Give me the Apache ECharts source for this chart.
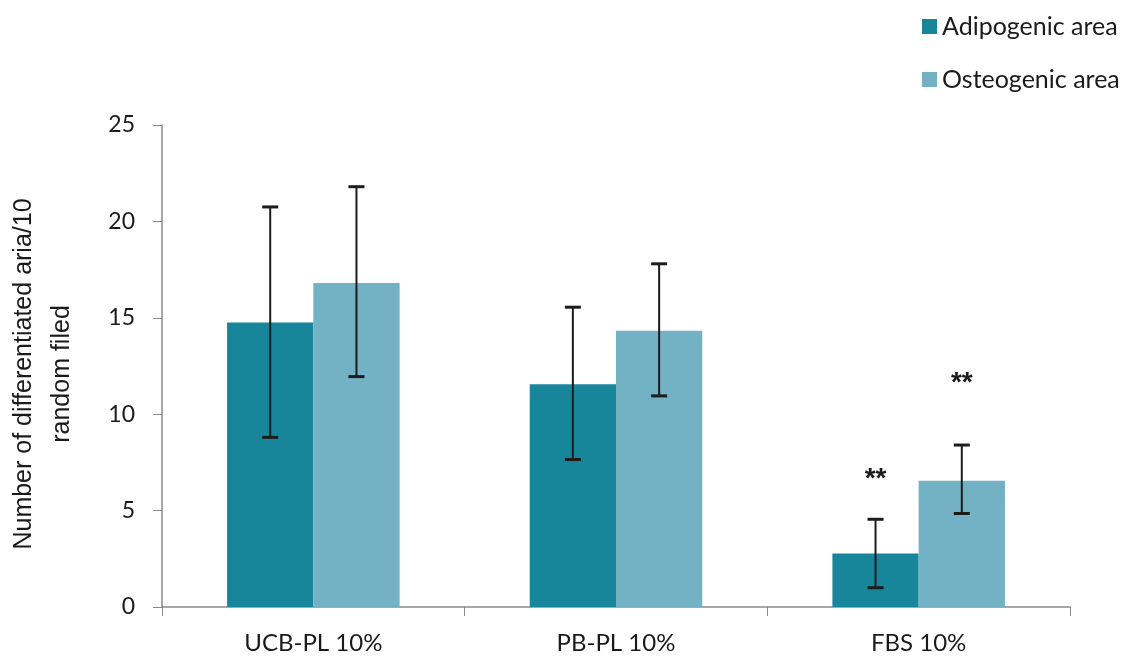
<!DOCTYPE html>
<html>
<head>
<meta charset="utf-8">
<script src="https://cdn.jsdelivr.net/npm/echarts@6/dist/echarts.min.js"></script>
<style>
  html, body { margin: 0; padding: 0; background: #fff; }
  #chart { width: 1138px; height: 659px; }
</style>
</head>
<body>
<div id="chart"></div>
<script>
// Groups and series
const categories = ['UCB-PL 10%', 'PB-PL 10%', 'FBS 10%'];
const seriesNames = ['Adipogenic area', 'Osteogenic area'];
const adipogenic = [14.75, 11.55, 2.77];
const osteogenic = [16.8, 14.33, 6.55];
// Error bar ends (low, high)
const adipogenicErrLow = [8.8, 7.65, 1.0];
const adipogenicErrHigh = [20.75, 15.55, 4.55];
const osteogenicErrLow = [11.95, 10.95, 4.85];
const osteogenicErrHigh = [21.8, 17.8, 8.4];
// Significance marks and their heights on the value axis
const adipogenicSig = ['', '', '**'];
const adipogenicSigAt = [null, null, 6.6];
const osteogenicSig = ['', '', '**'];
const osteogenicSigAt = [null, null, 11.6];
const yTicks = [0, 5, 10, 15, 20, 25];

const colors = ['#17869b', '#73b1c5'];
const GAP = 0.43; // barCategoryGap
const LABEL_FONT = 'Lato, "Open Sans", sans-serif';

function errorSeries(name, low, high, sig, sigAt, side) {
  const data = categories.map((c, i) => [i, low[i], high[i], sig[i], sigAt[i]]);
  return {
    type: 'custom',
    name: name + ' error',
    z: 10,
    silent: true,
    data: data,
    renderItem: function (params, api) {
      const idx = api.value(0);
      const band = api.size([1, 0])[0];
      const barW = band * (1 - GAP) / 2;
      const off = side * barW / 2;
      const pLow = api.coord([idx, api.value(1)]);
      const pHigh = api.coord([idx, api.value(2)]);
      const x = pLow[0] + off;
      const cap = 8;
      const capStyle = { stroke: '#1c1c1c', lineWidth: 3 };
      const children = [
        { type: 'line', shape: { x1: x, y1: pLow[1], x2: x, y2: pHigh[1] }, style: { stroke: '#1c1c1c', lineWidth: 2 } },
        { type: 'line', shape: { x1: x - cap, y1: pHigh[1], x2: x + cap, y2: pHigh[1] }, style: capStyle },
        { type: 'line', shape: { x1: x - cap, y1: pLow[1], x2: x + cap, y2: pLow[1] }, style: capStyle }
      ];
      const mark = data[params.dataIndex][3];
      const at = data[params.dataIndex][4];
      if (mark && at != null) {
        const pm = api.coord([idx, at]);
        children.push({
          type: 'text',
          style: {
            x: x, y: pm[1], text: mark,
            font: 'bold 28px "Liberation Sans", Arial, sans-serif',
            fill: '#1c1c1c', align: 'center', verticalAlign: 'middle'
          }
        });
      }
      return { type: 'group', children: children };
    }
  };
}

const chart = echarts.init(document.getElementById('chart'), null, { renderer: 'canvas' });
chart.setOption({
  backgroundColor: '#ffffff',
  animation: false,
  color: colors,
  legend: {
    orient: 'vertical',
    left: 917,
    top: 9,
    itemWidth: 15,
    itemHeight: 15,
    itemGap: 28,
    icon: 'rect',
    data: seriesNames,
    textStyle: { fontFamily: LABEL_FONT, fontSize: 25, color: '#1a1a1a' }
  },
  grid: { left: 162, right: 68, top: 125, bottom: 52, containLabel: false, outerBoundsMode: 'none' },
  xAxis: {
    type: 'category',
    data: categories,
    axisLine: { lineStyle: { color: '#8a8a8a', width: 1.5 } },
    axisTick: { show: true, length: 9, alignWithLabel: false, lineStyle: { color: '#8a8a8a' } },
    axisLabel: { margin: 24, fontFamily: LABEL_FONT, fontSize: 24, color: '#1a1a1a' }
  },
  yAxis: {
    type: 'value',
    min: yTicks[0],
    max: yTicks[yTicks.length - 1],
    interval: yTicks[1] - yTicks[0],
    name: 'Number of differentiated aria/10\nrandom filed',
    nameLocation: 'middle',
    nameRotate: 90,
    nameGap: 81,
    nameTextStyle: { fontFamily: '"Liberation Sans", Arial, sans-serif', fontSize: 25, color: '#1a1a1a', lineHeight: 38, align: 'center', padding: [0, 16, 0, 0] },
    axisLine: { show: true, lineStyle: { color: '#8a8a8a', width: 1.5 } },
    axisTick: { show: true, length: 9, lineStyle: { color: '#8a8a8a' } },
    splitLine: { show: false },
    axisLabel: { margin: 27, fontFamily: LABEL_FONT, fontSize: 23, color: '#1a1a1a' }
  },
  series: [
    { type: 'bar', name: seriesNames[0], data: adipogenic, barGap: '0%', barCategoryGap: (GAP * 100) + '%' },
    { type: 'bar', name: seriesNames[1], data: osteogenic, barGap: '0%', barCategoryGap: (GAP * 100) + '%' },
    errorSeries(seriesNames[0], adipogenicErrLow, adipogenicErrHigh, adipogenicSig, adipogenicSigAt, -1),
    errorSeries(seriesNames[1], osteogenicErrLow, osteogenicErrHigh, osteogenicSig, osteogenicSigAt, 1)
  ]
});
</script>
</body>
</html>
